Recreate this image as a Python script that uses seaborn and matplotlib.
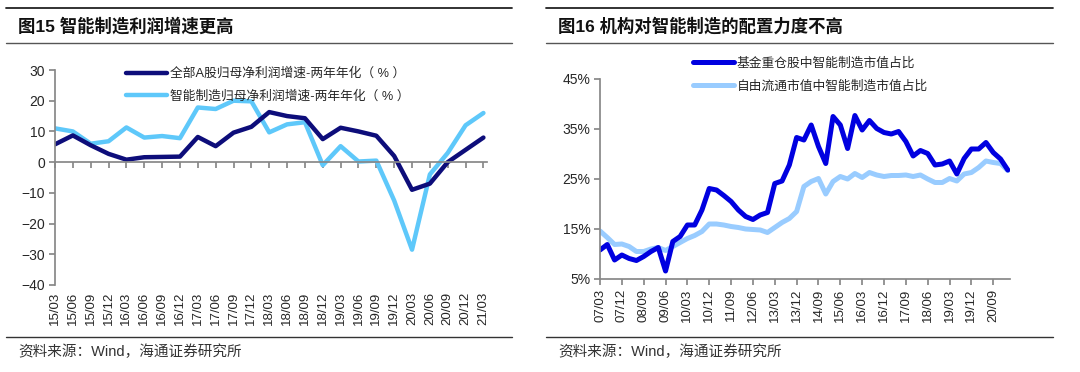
import numpy as np
import pandas as pd
import seaborn as sns
import matplotlib.pyplot as plt
from matplotlib.lines import Line2D

# 图15 数据（季度）
quarters_l = ['15/03', '15/06', '15/09', '15/12', '16/03', '16/06', '16/09', '16/12',
              '17/03', '17/06', '17/09', '17/12', '18/03', '18/06', '18/09', '18/12',
              '19/03', '19/06', '19/09', '19/12', '20/03', '20/06', '20/09', '20/12', '21/03']
all_a = [5.8, 8.7, 5.5, 2.7, 0.8, 1.6, 1.7, 1.8, 8.2, 5.2, 9.6, 11.5, 16.3, 15.0, 14.3,
         7.5, 11.2, 10.0, 8.6, 2.0, -9.0, -7.0, 0.0, 4.0, 8.0]
smart_l = [11.0, 10.0, 6.0, 6.8, 11.3, 8.0, 8.5, 7.8, 17.8, 17.3, 20.0, 19.8, 9.7, 12.3,
           13.0, -1.0, 5.2, 0.2, 0.5, -12.5, -28.5, -4.0, 3.0, 12.0, 16.0]
name_a = '全部A股归母净利润增速-两年年化（ % ）'
name_s = '智能制造归母净利润增速-两年年化（ % ）'

# 图16 数据（季度，07/03 - 21/03）
fund_heavy = [10.8, 11.9, 8.8, 9.8, 9.1, 8.7, 9.5, 10.5, 11.3, 6.6, 12.5, 13.5, 15.8, 15.8,
              18.8, 23.1, 22.8, 21.7, 20.5, 18.8, 17.5, 16.9, 17.8, 18.3, 24.1, 24.6, 27.8,
              33.3, 32.8, 35.8, 31.5, 28.1, 37.5, 35.8, 31.1, 37.7, 34.8, 36.7, 35.1, 34.3,
              34.0, 34.5, 32.5, 29.6, 30.7, 30.1, 27.8, 28.0, 28.6, 26.0, 29.1, 31.0, 31.0,
              32.3, 30.3, 29.0, 26.8]
free_float = [14.6, 13.3, 11.9, 12.0, 11.5, 10.5, 10.5, 11.0, 11.3, 10.7, 11.5, 12.3, 13.1,
              13.7, 14.5, 16.0, 16.0, 15.8, 15.5, 15.3, 15.0, 14.9, 14.8, 14.3, 15.3, 16.3,
              17.1, 18.5, 23.5, 24.5, 25.1, 22.0, 24.5, 25.5, 25.0, 26.1, 25.3, 26.3, 25.8,
              25.5, 25.7, 25.7, 25.8, 25.5, 25.8, 25.0, 24.3, 24.3, 25.1, 24.6, 26.0, 26.3,
              27.3, 28.6, 28.3, 28.1, 26.7]
ticks_r = ['07/03', '07/12', '08/09', '09/06', '10/03', '10/12', '11/09', '12/06', '13/03',
           '13/12', '14/09', '15/06', '16/03', '16/12', '17/09', '18/06', '19/03', '19/12', '20/09']
name_f = '基金重仓股中智能制造市值占比'
name_ff = '自由流通市值中智能制造市值占比'

sns.set_theme(style='white')
fams = ['Liberation Sans', 'Noto Sans CJK SC']
plt.rcParams['font.family'] = fams
W, H = 1080, 372
fig = plt.figure(figsize=(W / 100, H / 100), dpi=100)
leg_prop = {'family': fams, 'size': 9.2}

# ---- 左图 ----
ax1 = fig.add_axes([55 / W, 1 - 285 / H, 432 / W, 215 / H])
df1 = pd.DataFrame({'q': np.arange(len(quarters_l)), name_a: all_a, name_s: smart_l})
sns.lineplot(data=df1, x='q', y=name_s, color='#5ec8fa', lw=3.2, ax=ax1, label=name_s)
sns.lineplot(data=df1, x='q', y=name_a, color='#0d0d7a', lw=3.2, ax=ax1, label=name_a)
ax1.set_xlim(0, 24.2)
ax1.set_ylim(-40, 30)
ax1.set_yticks(range(-40, 31, 10))
ax1.set_xlabel('')
ax1.set_ylabel('')
for s in ['top', 'right']:
    ax1.spines[s].set_visible(False)
ax1.spines['left'].set_color('#888888')
ax1.spines['bottom'].set_color('#888888')
ax1.spines['bottom'].set_position(('data', 0))
ax1.set_xticks(range(len(quarters_l)))
ax1.tick_params(axis='x', direction='out', length=4, color='#888888', labelbottom=False, bottom=True)
ax1.tick_params(axis='y', direction='out', length=4, color='#888888', left=True, labelsize=10, pad=3)
sec = ax1.secondary_xaxis(0)
sec.set_xticks(range(len(quarters_l)), quarters_l, rotation=90)
sec.tick_params(length=0, labelsize=9.5, pad=5)
sec.spines['bottom'].set_visible(False)
h, l = ax1.get_legend_handles_labels()
ax1.legend(h[::-1], l[::-1], loc='upper left', bbox_to_anchor=(0.138, 1.065), frameon=False,
           handlelength=3.2, handletextpad=0.2, labelspacing=0.8, prop=leg_prop)

# ---- 右图 ----
ax2 = fig.add_axes([600 / W, 1 - 279 / H, 410 / W, 200 / H])
df2 = pd.DataFrame({'q': np.arange(len(fund_heavy)), name_f: fund_heavy, name_ff: free_float})
sns.lineplot(data=df2, x='q', y=name_ff, color='#99ccff', lw=3.6, ax=ax2, label=name_ff)
sns.lineplot(data=df2, x='q', y=name_f, color='#0000e0', lw=3.6, ax=ax2, label=name_f)
ax2.set_xlim(0, 56.3)
ax2.set_ylim(5, 45)
ax2.set_yticks(range(5, 46, 10), [f'{v}%' for v in range(5, 46, 10)])
ax2.set_xticks(range(0, len(fund_heavy), 3)[:len(ticks_r)], ticks_r, rotation=90)
ax2.set_xlabel('')
ax2.set_ylabel('')
for s in ['top', 'right']:
    ax2.spines[s].set_visible(False)
ax2.spines['left'].set_color('#888888')
ax2.spines['bottom'].set_color('#888888')
ax2.tick_params(axis='x', direction='out', length=4, color='#888888', bottom=True, labelsize=9.5, pad=3)
ax2.tick_params(axis='y', direction='out', length=4, color='#888888', left=True, labelsize=10, pad=3)
h, l = ax2.get_legend_handles_labels()
ax2.legend(h[::-1], l[::-1], loc='upper left', bbox_to_anchor=(0.199, 1.165), frameon=False,
           handlelength=3.2, handletextpad=0.2, labelspacing=0.8, prop=leg_prop)

# ---- 标题与来源 ----
for x0, x1, title in [(6, 512, '图15 智能制造利润增速更高'), (546, 1053, '图16 机构对智能制造的配置力度不高')]:
    fig.add_artist(Line2D([x0 / W, x1 / W], [1 - 8 / H] * 2, color='#222222', lw=1.3))
    fig.add_artist(Line2D([x0 / W, x1 / W], [1 - 43 / H] * 2, color='#555555', lw=1.0))
    fig.add_artist(Line2D([x0 / W, x1 / W], [1 - 337 / H] * 2, color='#333333', lw=1.0))
    fig.text((x0 + 12) / W, 1 - 26 / H, title, fontsize=12.5, fontweight='bold', va='center',
             color='#111111')
    fig.text((x0 + 12) / W, 1 - 352 / H, '资料来源：Wind，海通证券研究所', fontsize=10.5,
             va='center', color='#333333')

fig.savefig('out.png', dpi=100)
